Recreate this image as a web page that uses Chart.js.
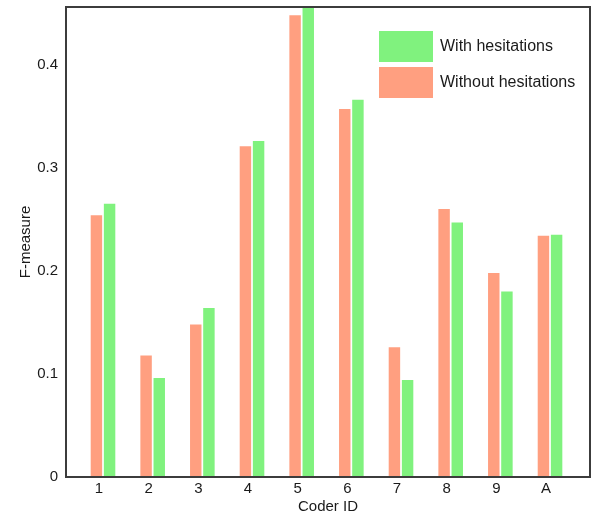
<!DOCTYPE html>
<html>
<head>
<meta charset="utf-8">
<script src="https://cdn.jsdelivr.net/npm/chart.js@4/dist/chart.umd.min.js"></script>
<style>
  html, body { margin: 0; padding: 0; background: #fff; }
  #wrap { width: 592px; height: 512px; }
</style>
</head>
<body>
<div id="wrap"><canvas id="c" width="592" height="512"></canvas></div>
<script>
// coder ids on the x axis
var coders = ["1", "2", "3", "4", "5", "6", "7", "8", "9", "A"];
// F-measure per coder
var withoutHes = [0.254, 0.118, 0.148, 0.321, 0.448, 0.357, 0.126, 0.260, 0.198, 0.234];
var withHes    = [0.265, 0.096, 0.164, 0.326, 0.460, 0.366, 0.094, 0.247, 0.180, 0.235];
var yTicks = [0, 0.1, 0.2, 0.3, 0.4];

var FONT = "'Liberation Sans', Arial, Helvetica, sans-serif";

function pts(arr) {
    return arr.map(function(v, i) { return { x: i + 1, y: v }; });
}

// box round the plot + legend inside it (top right)
var boxAndLegend = {
    id: 'boxAndLegend',
    afterDatasetsDraw: function(chart) {
        var ctx = chart.ctx, a = chart.chartArea;
        ctx.save();
        ctx.strokeStyle = '#3c3c3c';
        ctx.lineWidth = 2;
        ctx.strokeRect(a.left, a.top, a.right - a.left, a.bottom - a.top);

        // legend: green first, then orange
        var order = [1, 0];
        var x0 = a.right - 211, y0 = a.top + 24;
        ctx.font = '16px ' + FONT;
        ctx.textBaseline = 'middle';
        order.forEach(function(di, k) {
            var ds = chart.data.datasets[di];
            var y = y0 + k * 36;
            ctx.fillStyle = ds.backgroundColor;
            ctx.fillRect(x0, y, 54, 31);
            ctx.fillStyle = '#1a1a1a';
            ctx.fillText(ds.label, x0 + 61, y + 16);
        });
        ctx.restore();
    }
};

new Chart(document.getElementById('c'), {
    type: 'bar',
    data: {
        datasets: [
            { label: 'Without hesitations', data: pts(withoutHes), backgroundColor: '#ff9f80' },
            { label: 'With hesitations', data: pts(withHes), backgroundColor: '#80f27e' }
        ]
    },
    options: {
        responsive: false,
        animation: false,
        categoryPercentage: 0.53,
        barPercentage: 0.87,
        layout: { padding: { top: 7, right: 2, left: 0, bottom: 0 } },
        plugins: {
            legend: { display: false },
            tooltip: { enabled: false }
        },
        scales: {
            x: {
                type: 'linear',
                offset: false,
                min: 0.255,
                max: 10.805,
                grid: { display: false, drawTicks: false },
                border: { display: false },
                afterBuildTicks: function(s) {
                    s.ticks = coders.map(function(_, i) { return { value: i + 1 }; });
                },
                afterFit: function(s) {
                    s.height = 35;
                    s.paddingLeft = 0; s.paddingRight = 0;
                },
                ticks: {
                    autoSkip: false,
                    maxRotation: 0,
                    padding: 3,
                    labelOffset: -4,
                    color: '#1a1a1a',
                    font: { family: FONT, size: 15 },
                    callback: function(v) { return coders[Math.round(v) - 1]; }
                },
                title: {
                    display: true,
                    text: 'Coder ID',
                    color: '#1a1a1a',
                    padding: { top: 0, bottom: -4 },
                    font: { family: FONT, size: 15 }
                }
            },
            y: {
                min: 0,
                max: 0.456,
                grid: { display: false, drawTicks: false },
                border: { display: false },
                afterBuildTicks: function(s) {
                    s.ticks = yTicks.map(function(v) { return { value: v }; });
                },
                afterFit: function(s) {
                    s.width = 66;
                    s.paddingTop = 0; s.paddingBottom = 0;
                },
                ticks: {
                    padding: 8,
                    color: '#1a1a1a',
                    font: { family: FONT, size: 15 },
                    callback: function(v) { return v === 0 ? '0' : v.toFixed(1); }
                },
                title: {
                    display: true,
                    text: 'F-measure',
                    color: '#1a1a1a',
                    padding: { top: 17, bottom: 0 },
                    font: { family: FONT, size: 15 }
                }
            }
        }
    },
    plugins: [boxAndLegend]
});
</script>
</body>
</html>
